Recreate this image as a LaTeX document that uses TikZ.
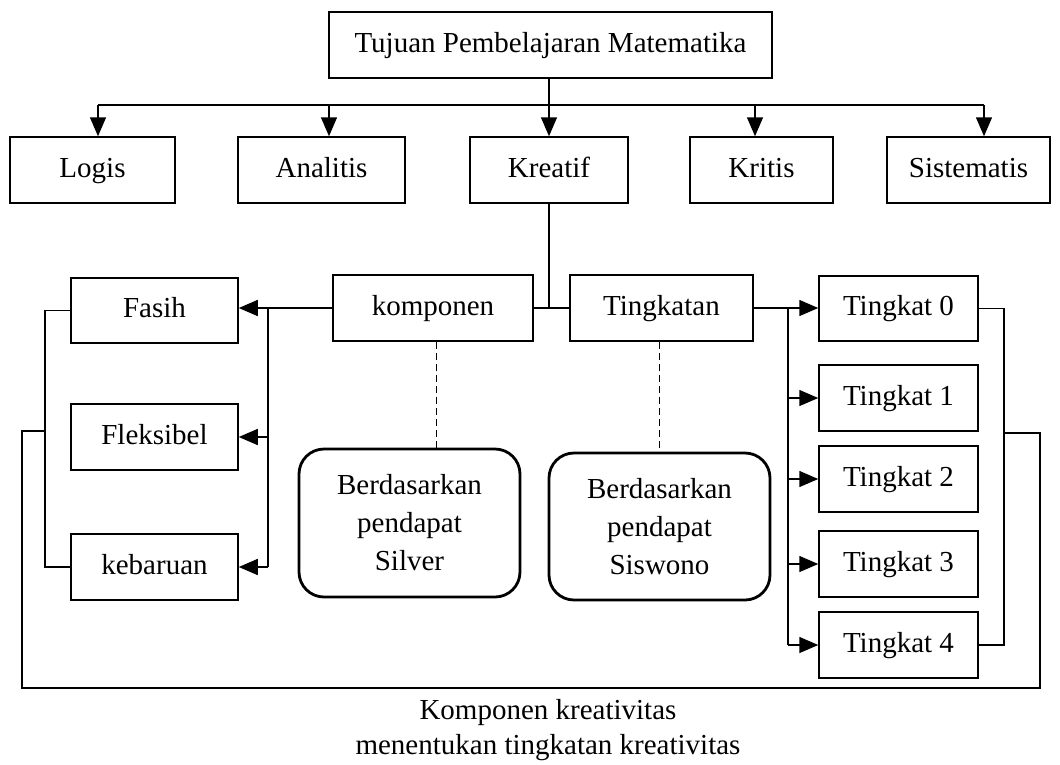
\documentclass[tikz,border=0pt]{standalone}
\usepackage{fontspec}
\setmainfont{Liberation Serif}
\usetikzlibrary{arrows.meta}

\begin{document}
\begin{tikzpicture}[x=1pt, y=-1pt, line width=1.5pt, font=\fontsize{29}{35}\selectfont,
	>={Triangle[length=19pt,width=16pt]},
	box/.style={draw, inner sep=0pt, text height=20pt, text depth=6pt, minimum height=66pt},
	roundbox/.style={draw, line width=2.8pt, rounded corners=25pt, inner sep=0pt, align=center, font=\fontsize{29}{38}\selectfont, minimum width=221pt, minimum height=148pt}]
	\useasboundingbox (0,0) rectangle (1060,764);

	\node[box, minimum width=443pt] (tujuan) at (550.5,45) {Tujuan Pembelajaran Matematika};

	\node[box, minimum width=165pt] (logis) at (92.5,170) {Logis};
	\node[box, minimum width=167pt] (analitis) at (321.5,170) {Analitis};
	\node[box, minimum width=158pt] (kreatif) at (549,170) {Kreatif};
	\node[box, minimum width=143pt] (kritis) at (761.5,170) {Kritis};
	\node[box, minimum width=163pt] (sistematis) at (968.5,170) {Sistematis};

	\node[box, minimum width=200pt] (komponen) at (433,308) {komponen};
	\node[box, minimum width=183pt] (tingkatan) at (661.5,308) {Tingkatan};

	\node[box, minimum width=167pt, minimum height=65pt] (fasih) at (154.5,310.5) {Fasih};
	\node[box, minimum width=167pt] (fleksibel) at (154.5,437) {Fleksibel};
	\node[box, minimum width=167pt] (kebaruan) at (154.5,567) {kebaruan};

	\node[roundbox] (silver) at (409.5,523) {Berdasarkan\\pendapat\\Silver};
	\node[roundbox, minimum height=147pt] (siswono) at (659.5,526.5) {Berdasarkan\\pendapat\\Siswono};

	\node[box, minimum width=159pt, minimum height=65pt] (t0) at (898.5,308.5) {Tingkat 0};
	\node[box, minimum width=159pt] (t1) at (898.5,398) {Tingkat 1};
	\node[box, minimum width=159pt] (t2) at (898.5,479) {Tingkat 2};
	\node[box, minimum width=159pt] (t3) at (898.5,564) {Tingkat 3};
	\node[box, minimum width=159pt] (t4) at (898.5,645) {Tingkat 4};

	\node[align=center] (note) at (548,730.5) {Komponen kreativitas\\menentukan tingkatan kreativitas};

	\coordinate (bus) at (549,105);
	\coordinate (kv) at (268,308);
	\coordinate (tv) at (788,308);
	\coordinate (rmid) at (1004,433);
	\coordinate (lmid) at (45,431);
	\coordinate (loopr) at (1040,688);
	\coordinate (loopl) at (22,688);

	\draw (tujuan.south -| bus) -- (bus);
	\draw ([xshift=5.5pt]logis.north |- bus) -- ([xshift=15.5pt]sistematis.north |- bus);
	\draw[->] ([xshift=5.5pt]logis.north |- bus) -- ([xshift=5.5pt]logis.north);
	\draw[->] ([xshift=7.5pt]analitis.north |- bus) -- ([xshift=7.5pt]analitis.north);
	\draw[->] (bus) -- (bus |- kreatif.north);
	\draw[->] ([xshift=-6.5pt]kritis.north |- bus) -- ([xshift=-6.5pt]kritis.north);
	\draw[->] ([xshift=15.5pt]sistematis.north |- bus) -- ([xshift=15.5pt]sistematis.north);

	\draw (kreatif.south -| bus) -- (bus |- komponen.east);
	\draw (komponen.east) -- (tingkatan.west);

	\draw[->] (komponen.west) -- (komponen.west -| fasih.east);
	\draw (kv) -- (kv |- kebaruan);
	\draw[->] (kv |- fleksibel) -- (fleksibel.east);
	\draw[->] (kv |- kebaruan) -- (kebaruan.east);

	\draw[->] (tingkatan.east) -- (tingkatan.east -| t0.west);
	\draw (tv) -- (tv |- t4);
	\foreach \i in {1,...,4}
		\draw[->] (tv |- t\i) -- (t\i.west);

	\draw[line width=1pt, dash pattern=on 7pt off 4pt] (komponen.south -| 436,0) -- (silver.north -| 436,0);
	\draw[line width=1pt, dash pattern=on 7pt off 4pt] (tingkatan.south -| 659,0) -- (siswono.north -| 659,0);

	\draw (fasih.west) -- (fasih.west -| lmid) -- (kebaruan.west -| lmid) -- (kebaruan.west);
	\draw (t0.east) -- (t0.east -| rmid) -- (t4.east -| rmid) -- (t4.east);
	\draw (rmid) -| (loopr) -- (loopl) |- (lmid);
\end{tikzpicture}
\end{document}
